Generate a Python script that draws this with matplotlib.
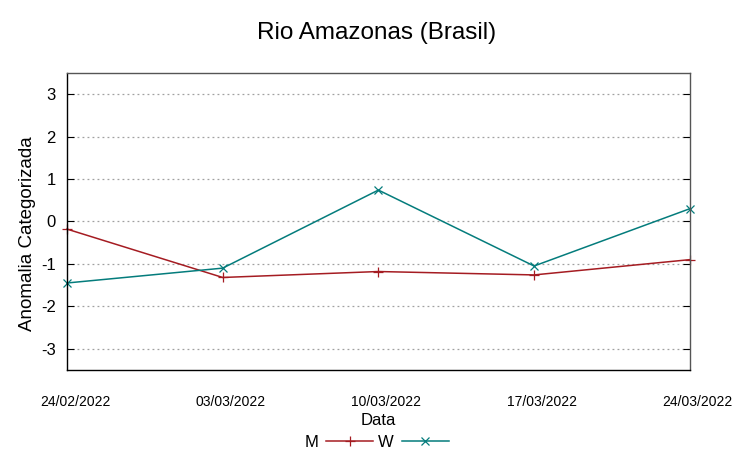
import matplotlib
matplotlib.use("Agg")
import matplotlib.pyplot as plt
from matplotlib.transforms import ScaledTranslation

plt.rcParams['font.family'] = ['Liberation Sans', 'DejaVu Sans']

dates = ["24/02/2022", "03/03/2022", "10/03/2022", "17/03/2022", "24/03/2022"]
m_values = [-0.18, -1.32, -1.18, -1.26, -0.9]
w_values = [-1.45, -1.1, 0.74, -1.05, 0.3]
y_ticks = [-3, -2, -1, 0, 1, 2, 3]

fig = plt.figure(figsize=(7.53, 4.59), dpi=100)
ax = fig.add_axes([0.089, 0.194, 0.827, 0.647])

x = list(range(len(dates)))
ax.plot(x, m_values, color='#a51c22', lw=1.1, marker='+', ms=7, mew=0.9, label='M', clip_on=False)
ax.plot(x, w_values, color='#047c7c', lw=1.1, marker='x', ms=5.5, mew=0.9, label='W', clip_on=False)

ax.set_xlim(0, len(dates) - 1)
ax.set_ylim(-3.5, 3.5)
ax.set_yticks(y_ticks)
ax.set_yticklabels([str(t) for t in y_ticks], fontsize=12)
ax.set_xticks(x)
ax.set_xticklabels(dates, fontsize=10)
ax.tick_params(axis='x', length=0, pad=18)
ax.tick_params(axis='y', direction='in', length=5, left=True, right=True, pad=8, color='black')
off = ScaledTranslation(8 / 100, 0, fig.dpi_scale_trans)
for lab in ax.get_xticklabels():
    lab.set_transform(lab.get_transform() + off)
ax.grid(axis='y', linestyle=(0, (1.5, 2.5)), color='#a0a0a0', lw=0.9)
ax.set_axisbelow(True)
for s in ax.spines.values():
    s.set_linewidth(1.0)
ax.spines['top'].set_color('#555555')
ax.spines['right'].set_color('#555555')

ax.set_ylabel('Anomalia Categorizada', fontsize=13.5)
ax.yaxis.set_label_coords(-0.05, 0.458)
ax.set_xlabel('Data', fontsize=12, labelpad=3)
fig.suptitle('Rio Amazonas (Brasil)', fontsize=17.5, y=0.953)

fig.legend(loc='center', bbox_to_anchor=(0.5, 0.037), ncol=2, frameon=False,
           markerfirst=False, fontsize=12, handlelength=2.8, handletextpad=0.5,
           columnspacing=0.3, borderpad=0)

fig.savefig('out.png', dpi=100)
